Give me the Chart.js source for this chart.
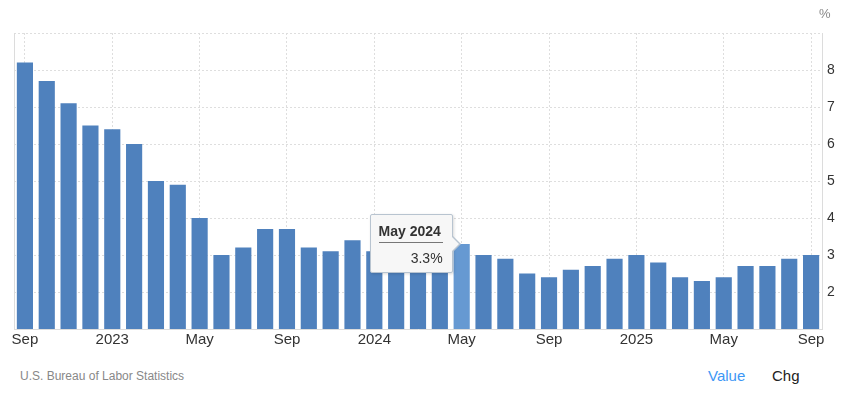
<!DOCTYPE html>
<html>
<head>
<meta charset="utf-8">
<script src="https://cdn.jsdelivr.net/npm/chart.js@4.4.1/dist/chart.umd.min.js"></script>
<style>
  body { margin: 0; background: #fff; font-family: "Liberation Sans", Arial, sans-serif; }
  #wrap { position: relative; width: 843px; height: 394px; overflow: hidden; }
  #box { position: absolute; left: 0; top: 0; width: 843px; height: 350px; }
  #unit { position: absolute; left: 819px; top: 6px; font-size: 13px; color: #888; }
  #source { position: absolute; left: 20px; top: 369px; font-size: 12px; color: #888; }
  #value { position: absolute; left: 708px; top: 367px; font-size: 15px; color: #3d97f5; }
  #chg { position: absolute; left: 772px; top: 367px; font-size: 15px; color: #222; }
  #tip {
    position: absolute; display: none; box-sizing: border-box;
    width: 83px; height: 59px; background: #f7f7f7;
    border: 1px solid #b8c4d0; border-radius: 2px;
    box-shadow: 1px 1px 3px rgba(0,0,0,0.15);
    font-size: 14px; color: #333;
  }
  #tip .t { position: absolute; left: 8px; top: 8px; width: 64px; font-weight: bold;
    border-bottom: 1px solid #777; padding-bottom: 3px; white-space: nowrap; }
  #tip .v { position: absolute; right: 9px; top: 35px; }
  #tip .c, #tip .cb { position: absolute; top: 21px; width: 0; height: 0;
    border-top: 8px solid transparent; border-bottom: 8px solid transparent; }
  #tip .cb { right: -9px; border-left: 8px solid #b8c4d0; }
  #tip .c { right: -7px; top: 22px; border-top-width: 7px; border-bottom-width: 7px;
    border-left: 7px solid #f7f7f7; }
</style>
</head>
<body>
<div id="wrap">
  <div id="box"><canvas id="cpi"></canvas></div>
  <div id="unit">%</div>
  <div id="source">U.S. Bureau of Labor Statistics</div>
  <div id="value">Value</div>
  <div id="chg">Chg</div>
  <div id="tip"><div class="t"></div><div class="v"></div><div class="cb"></div><div class="c"></div></div>
</div>
<script>
// monthly, Sep 2022 .. Sep 2025
const months = [
  "Sep 2022", "Oct 2022", "Nov 2022", "Dec 2022",
  "Jan 2023", "Feb 2023", "Mar 2023", "Apr 2023", "May 2023", "Jun 2023",
  "Jul 2023", "Aug 2023", "Sep 2023", "Oct 2023", "Nov 2023", "Dec 2023",
  "Jan 2024", "Feb 2024", "Mar 2024", "Apr 2024", "May 2024", "Jun 2024",
  "Jul 2024", "Aug 2024", "Sep 2024", "Oct 2024", "Nov 2024", "Dec 2024",
  "Jan 2025", "Feb 2025", "Mar 2025", "Apr 2025", "May 2025", "Jun 2025",
  "Jul 2025", "Aug 2025", "Sep 2025"
];
const inflation = [
  8.2, 7.7, 7.1, 6.5,
  6.4, 6.0, 5.0, 4.9, 4.0, 3.0,
  3.2, 3.7, 3.7, 3.2, 3.1, 3.4,
  3.1, 3.2, 3.5, 3.4, 3.3, 3.0,
  2.9, 2.5, 2.4, 2.6, 2.7, 2.9,
  3.0, 2.8, 2.4, 2.3, 2.4, 2.7,
  2.7, 2.9, 3.0
];
const xTickLabels = ["Sep", "2023", "May", "Sep", "2024", "May", "Sep", "2025", "May", "Sep"];
const yTicks = [2, 3, 4, 5, 6, 7, 8];
const yMin = 1, yMax = 9;
const activeIndex = 20;

function showTip(chart) {
  const tip = document.getElementById("tip");
  const bar = chart.getDatasetMeta(0).data[activeIndex];
  if (!bar) return;
  tip.querySelector(".t").textContent = months[activeIndex];
  tip.querySelector(".v").textContent = inflation[activeIndex].toFixed(1) + "%";
  const right = bar.x - bar.width / 2;
  tip.style.left = (right - 84) + "px";
  tip.style.top = (bar.y - 30) + "px";
  tip.style.display = "block";
}

const gridColor = "#dedede";

const chart = new Chart(document.getElementById("cpi"), {
  type: "bar",
  data: {
    labels: months,
    datasets: [{
      data: inflation,
      backgroundColor: "#4f81bd",
      hoverBackgroundColor: "#6699d2",
      barPercentage: 0.74,
      categoryPercentage: 1.0
    }]
  },
  options: {
    responsive: true,
    maintainAspectRatio: false,
    animation: false,
    events: [],
    layout: { padding: { left: 14, top: 33, right: 0, bottom: 0 } },
    plugins: {
      legend: { display: false },
      tooltip: { enabled: false }
    },
    scales: {
      x: {
        offset: true,
        afterFit: s => { s.height = 21; },
        grid: {
          offset: false,
          drawTicks: false,
          color: ctx => (ctx.index % 4 === 0 ? gridColor : "rgba(0,0,0,0)")
        },
        border: { color: "#dcdcdc", dash: [2, 2] },
        ticks: {
          autoSkip: false,
          maxRotation: 0,
          padding: 2,
          color: "#333",
          font: { family: "'Liberation Sans', Arial, sans-serif", size: 15 },
          callback: (v, i) => (i % 4 === 0 ? xTickLabels[i / 4] : "")
        }
      },
      y: {
        position: "right",
        min: yMin,
        max: yMax,
        afterFit: s => { s.width = 21; },
        afterBuildTicks: s => {
          s.ticks = [yMin].concat(yTicks, [yMax]).map(v => ({ value: v }));
        },
        grid: {
          drawTicks: false,
          color: ctx => (ctx.tick && ctx.tick.value === yMin ? "rgba(0,0,0,0)" : gridColor)
        },
        border: { color: "#dcdcdc", dash: [2, 2] },
        ticks: {
          padding: 5,
          color: "#333",
          font: { family: "'Liberation Sans', Arial, sans-serif", size: 14 },
          callback: v => (yTicks.includes(v) ? String(v) : "")
        }
      },
      yl: {
        position: "left",
        min: yMin,
        max: yMax,
        afterFit: s => { s.width = 0; },
        grid: { display: false },
        ticks: { display: false },
        border: { color: "#dcdcdc" }
      }
    }
  }
});

chart.setActiveElements([{ datasetIndex: 0, index: activeIndex }]);
chart.update();
showTip(chart);
</script>
</body>
</html>
